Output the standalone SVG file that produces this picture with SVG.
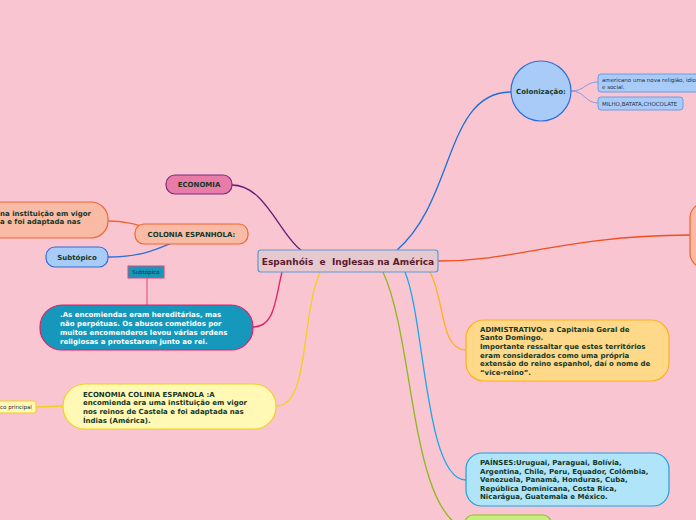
<svg xmlns="http://www.w3.org/2000/svg" width="696" height="520" viewBox="0 0 696 520">
<style>
.t{font-family:"DejaVu Sans","Liberation Sans",sans-serif;font-weight:bold;font-size:7px;fill:#163626}
.s{font-family:"DejaVu Sans","Liberation Sans",sans-serif;font-size:5.5px;fill:#1d2d4a}
.w{font-family:"DejaVu Sans","Liberation Sans",sans-serif;font-weight:bold;font-size:7px;fill:#ffffff}
.c{fill:none;stroke-width:1.3}
</style>
<rect width="696" height="520" fill="#F9C5D1"/>
<g id="connectors">
<path class="c" stroke="#6A1B7A" d="M232,185 C265,185 280,235 301,250"/>
<path class="c" stroke="#1E6FD8" d="M397,250 C455,200 445,92 511,92"/>
<path class="c" stroke="#F24E1E" d="M438,261 C520,261 560,236 690,235"/>
<path class="c" stroke="#FFB020" d="M430,272 C445,300 440,350 466,350"/>
<path class="c" stroke="#1BA8E8" d="M405,272 C425,320 425,480 466,480"/>
<path class="c" stroke="#8CB820" d="M383,272 C415,340 410,520 470,530"/>
<path class="c" stroke="#F0D020" d="M320,272 C300,320 310,406 276,406"/>
<path class="c" stroke="#E0206A" d="M282,272 C275,300 275,327 253,327"/>
<path class="c" stroke="#F26430" d="M108,221 C130,221 140,226 170,234"/>
<path class="c" stroke="#2E6FD8" d="M108,257 C140,257 155,250 172,243"/>
<path class="c" stroke="#E86090" d="M147,278 L147,305"/>
<path class="c" stroke="#F0D020" d="M36,407 L63,406"/>
<path fill="none" stroke="#6A8FE0" stroke-width="0.8" d="M571,91 C585,91 585,82 598,82"/>
<path fill="none" stroke="#6A8FE0" stroke-width="0.8" d="M571,91 C585,91 585,103 598,103"/>
</g>
<g id="center">
<rect x="258" y="250" width="180" height="22" rx="3" fill="#E6C8CF" stroke="#5B9BD5" stroke-width="1.2"/>
<text x="348" y="264.5" text-anchor="middle" style="white-space:pre" font-family="DejaVu Sans, Liberation Sans, sans-serif" font-weight="bold" font-size="9" fill="#5A1A2E">Espanhóis  e  Inglesas na América</text>
</g>
<g id="economia">
<rect x="166" y="175" width="66" height="19" rx="9" fill="#E87BA8" stroke="#7B2D7F" stroke-width="1.2"/>
<text class="t" x="199" y="187" text-anchor="middle">ECONOMIA</text>
</g>
<g id="colonia">
<rect x="135" y="224" width="113" height="20" rx="9" fill="#F9BBA6" stroke="#F26430" stroke-width="1.2"/>
<text class="t" x="191.5" y="236.5" text-anchor="middle">COLONIA ESPANHOLA:</text>
</g>
<g id="colonia-detail">
<rect x="-40" y="202" width="148" height="36" rx="17" fill="#F9BBA6" stroke="#F26430" stroke-width="1.2"/>
<text class="t" x="0" y="215.5">na instituição em vigor</text>
<text class="t" x="0" y="224">a e foi adaptada nas</text>
</g>
<g id="subtopico">
<rect x="46" y="247" width="62" height="20" rx="9" fill="#A8CCF7" stroke="#2E6FD8" stroke-width="1.2"/>
<text class="t" x="77" y="260" text-anchor="middle">Subtópico</text>
</g>
<g id="subtopico-small">
<rect x="128" y="266" width="36" height="12" fill="#1598BC" stroke="#E0457B" stroke-width="1"/>
<text class="s" x="146" y="274" text-anchor="middle" fill="#10303a">Subtópico</text>
</g>
<g id="encomiendas">
<rect x="40" y="305" width="213" height="45" rx="22" fill="#1598BC" stroke="#E0206A" stroke-width="1.2"/>
<text class="w" x="60" y="316.5">.As encomiendas eram hereditárias, mas</text>
<text class="w" x="60" y="325.5">não perpétuas. Os abusos cometidos por</text>
<text class="w" x="60" y="334.5">muitos encomenderos levou várias ordens</text>
<text class="w" x="60" y="343.5">religiosas a protestarem junto ao rei.</text>
</g>
<g id="economia-colinia">
<rect x="63" y="384" width="213" height="45" rx="22" fill="#FFF9B5" stroke="#F0D020" stroke-width="1.2"/>
<text class="t" x="83" y="396.5">ECONOMIA COLINIA ESPANOLA :A</text>
<text class="t" x="83" y="405.3">encomienda era uma instituição em vigor</text>
<text class="t" x="83" y="414">nos reinos de Castela e foi adaptada nas</text>
<text class="t" x="83" y="422.7">Índias (América).</text>
</g>
<g id="topico-principal">
<rect x="-10" y="401" width="46" height="12" rx="2" fill="#FFF9B5" stroke="#F0D020" stroke-width="1"/>
<text class="s" x="0" y="409" fill="#3a3a1a">co principal</text>
</g>
<g id="colonizacao">
<circle cx="541" cy="91" r="30" fill="#A8CCF7" stroke="#2E6FD8" stroke-width="1.2"/>
<text class="t" x="541" y="93.5" text-anchor="middle">Colonização:</text>
</g>
<g id="religiao">
<rect x="598" y="74" width="110" height="18" rx="3" fill="#A8CCF7" stroke="#5B8FE0" stroke-width="0.8"/>
<text class="s" x="602" y="82">americano uma nova religião, idio</text>
<text class="s" x="602" y="88.5">e social.</text>
</g>
<g id="milho">
<rect x="598" y="97" width="85" height="13" rx="3" fill="#A8CCF7" stroke="#5B8FE0" stroke-width="0.8"/>
<text class="s" x="602" y="106">MILHO,BATATA,CHOCOLATE</text>
</g>
<g id="right-node">
<rect x="690" y="203" width="60" height="65" rx="15" fill="#F9BBA6" stroke="#F26430" stroke-width="1.2"/>
</g>
<g id="administrativo">
<rect x="466" y="320" width="203" height="61" rx="18" fill="#FFD98A" stroke="#FFB020" stroke-width="1.2"/>
<text class="t" x="480" y="331.5">ADIMISTRATIVOe a Capitania Geral de</text>
<text class="t" x="480" y="340.2">Santo Domingo.</text>
<text class="t" x="480" y="348.9">Importante ressaltar que estes territórios</text>
<text class="t" x="480" y="357.6">eram considerados como uma própria</text>
<text class="t" x="480" y="366.3">extensão do reino espanhol, daí o nome de</text>
<text class="t" x="480" y="375">“vice-reino”.</text>
</g>
<g id="paises">
<rect x="466" y="453" width="203" height="53" rx="16" fill="#B0E4F8" stroke="#20A0E0" stroke-width="1.2"/>
<text class="t" x="480" y="465">PAÍNSES:Uruguai, Paraguai, Bolívia,</text>
<text class="t" x="480" y="473.6">Argentina, Chile, Peru, Equador, Colômbia,</text>
<text class="t" x="480" y="482.2">Venezuela, Panamá, Honduras, Cuba,</text>
<text class="t" x="480" y="490.8">República Dominicana, Costa Rica,</text>
<text class="t" x="480" y="499.4">Nicarágua, Guatemala e México.</text>
</g>
<g id="green-node">
<rect x="465" y="515" width="86" height="22" rx="8" fill="#C8EE80" stroke="#8CC020" stroke-width="1.2"/>
</g>
</svg>
